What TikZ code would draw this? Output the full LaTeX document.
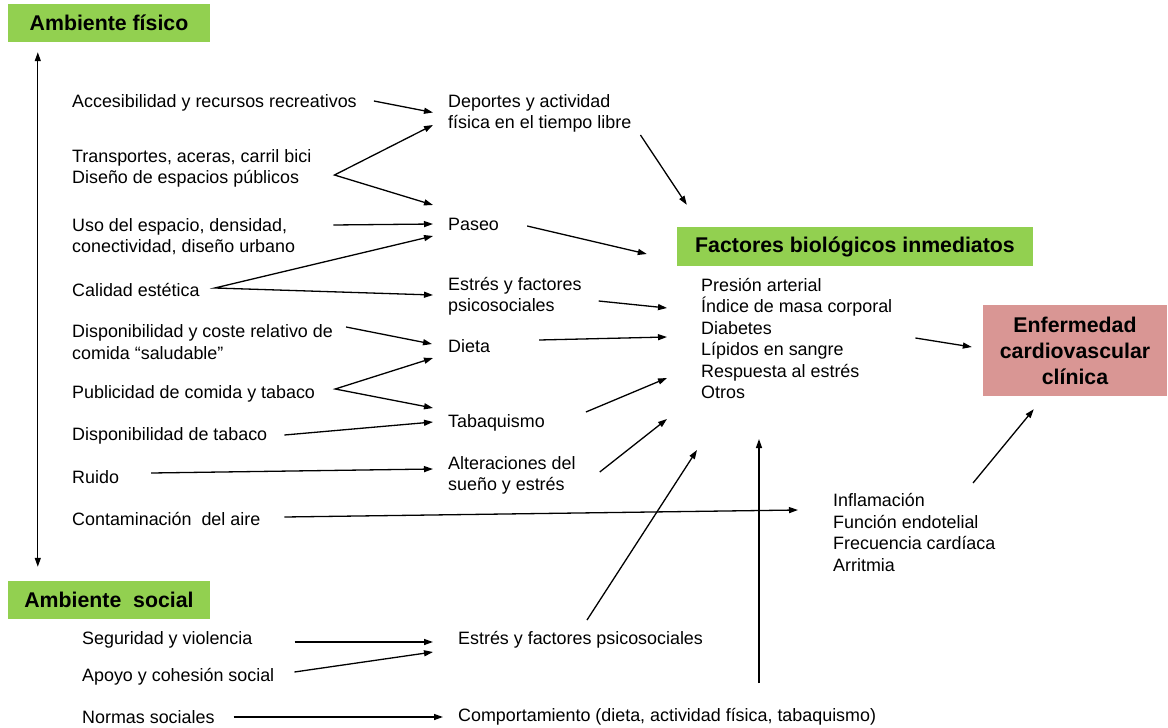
\documentclass[tikz,border=0pt]{standalone}
\usepackage{fontspec}
\setmainfont{Liberation Sans}
\usepackage{tikz}
\usetikzlibrary{positioning,arrows.meta,calc}
\definecolor{verde}{HTML}{92D050}
\definecolor{rosa}{HTML}{D99694}
\tikzstyle{txt} = [anchor=west,inner sep=0pt,align=left,font=\fontsize{17.9}{21.5}\selectfont]
\tikzstyle{titulo} = [fill=verde,inner sep=0pt,font=\bfseries\fontsize{21.3}{26}\selectfont]
\tikzstyle{caja} = [fill=rosa,inner sep=0pt,align=center,minimum width=184,minimum height=91,font=\bfseries\fontsize{21.3}{26}\selectfont]
\tikzstyle{flecha} = [-{Triangle[length=9pt,width=6pt]},line width=1.3pt]
\tikzstyle{horquilla} = [{Triangle[length=9pt,width=6pt]}-{Triangle[length=9pt,width=6pt]},line width=1.3pt,line join=miter]

\begin{document}
\begin{tikzpicture}[x=1pt,y=-1pt]
\useasboundingbox (0,0) rectangle (1168,728);

\node[titulo,minimum width=202,minimum height=38] (amb_f) at (109,23) {Ambiente físico};
\node[titulo,minimum width=202,minimum height=38] (amb_s) at (109,600) {Ambiente~ social};
\node[titulo,minimum width=356,minimum height=39] (bio) at (855,246.5) {Factores biológicos inmediatos};
\node[caja] (enf) at (1075,350.5) {Enfermedad\\cardiovascular\\clínica};

\node[txt] (acces) at (72,103) {Accesibilidad y recursos recreativos};
\node[txt] (transp) at (72,168.5) {Transportes, aceras, carril bici\\Diseño de espacios públicos};
\node[txt] (uso) at (72,236.5) {Uso del espacio, densidad,\\conectividad, diseño urbano};
\node[txt] (calidad) at (72,290) {Calidad estética};
\node[txt] (disp_com) at (72,342) {Disponibilidad y coste relativo de\\comida “saludable”};
\node[txt] (publi) at (72,394) {Publicidad de comida y tabaco};
\node[txt] (disp_tab) at (72,436) {Disponibilidad de tabaco};
\node[txt] (ruido) at (72,477) {Ruido};
\node[txt] (contam) at (72,519) {Contaminación~ del aire};

\node[txt] (segur) at (82,640) {Seguridad y violencia};
\node[txt] (apoyo) at (82,677) {Apoyo y cohesión social};
\node[txt] (normas) at (82,717) {Normas sociales};

\node[txt] (deporte) at (448,113.5) {Deportes y actividad\\física en el tiempo libre};
\node[txt] (paseo) at (448,224) {Paseo};
\node[txt] (estres) at (448,296.5) {Estrés y factores\\psicosociales};
\node[txt] (dieta) at (448,346) {Dieta};
\node[txt] (tabaq) at (448,423) {Tabaquismo};
\node[txt] (sueno) at (448,475.5) {Alteraciones del\\sueño y estrés};

\node[txt] (estres_s) at (458,640) {Estrés y factores psicosociales};
\node[txt] (comport) at (458,717) {Comportamiento (dieta, actividad física, tabaquismo)};

\node[txt] (bio_list) at (701,338.5) {Presión arterial\\Índice de masa corporal\\Diabetes\\Lípidos en sangre\\Respuesta al estrés\\Otros};
\node[txt] (inflam) at (833,532.5) {Inflamación\\Función endotelial\\Frecuencia cardíaca\\Arritmia};

\draw[horquilla] ($(amb_f.south west)+(30,10)$) -- ($(amb_s.north west)+(30,-14)$);

\coordinate (v_transp) at ($(transp.east)+(23,6.5)$);
\coordinate (v_calidad) at ($(calidad.east)+(15,-2)$);
\coordinate (v_publi) at ($(publi.east)+(20,-5)$);

\draw[flecha] ($(acces.east)+(17,-2)$) -- ($(deporte.west)+(-15,-1)$);
\draw[horquilla] ($(deporte.west)+(-15,11.5)$) -- (v_transp) -- ($(paseo.west)+(-15,-19)$);
\draw[flecha] ($(uso.east)+(38,-11.5)$) -- ($(paseo.west)+(-15,0)$);
\draw[horquilla] ($(paseo.west)+(-15,12)$) -- (v_calidad) -- ($(estres.west)+(-15,-1.5)$);
\draw[flecha] ($(disp_com.east)+(13,-15)$) -- ($(dieta.west)+(-16,-2)$);
\draw[horquilla] ($(dieta.west)+(-15,12)$) -- (v_publi) -- ($(tabaq.west)+(-15,-15)$);
\draw[flecha] ($(disp_tab.east)+(17,-1)$) -- ($(tabaq.west)+(-15,-1)$);
\draw[flecha] ($(ruido.east)+(32,-4)$) -- ($(sueno.west)+(-15,-6.5)$);
\draw[flecha] ($(contam.east)+(24,-2)$) -- ($(inflam.west)+(-35,-22.5)$);

\draw[flecha] ($(deporte.east)+(9,21.5)$) -- ($(bio.north west)+(10,-22)$);
\draw[flecha] ($(paseo.east)+(28,2)$) -- ($(bio.west)+(-30,7.5)$);
\draw[flecha] ($(estres.east)+(17,4.5)$) -- ($(bio_list.west)+(-34,-30.5)$);
\draw[flecha] ($(dieta.east)+(49,-6)$) -- ($(bio_list.west)+(-34,-1.5)$);
\draw[flecha] ($(tabaq.east)+(41,-11)$) -- ($(bio_list.west)+(-34,39.5)$);
\draw[flecha] ($(sueno.east)+(24,-3.5)$) -- ($(bio_list.west)+(-34,80.5)$);

\draw[flecha] ($(segur.east)+(42,2)$) -- ($(estres_s.west)+(-25,2)$);
\draw[flecha] ($(apoyo.east)+(20,-5)$) -- ($(estres_s.west)+(-25,12)$);
\draw[flecha] ($(normas.east)+(19,0)$) -- ($(comport.west)+(-15,0)$);
\draw[flecha] ($(estres_s.west)+(129,-20)$) -- ($(bio_list.west)+(-4,111.5)$);
\coordinate (c_up) at ($(comport.west)+(301,-34)$);
\draw[flecha] (c_up) -- ($(c_up |- bio_list.west)+(0,100.5)$);

\draw[flecha] ($(bio_list.east)+(23,-0.5)$) -- ($(enf.west)+(-11,-3.5)$);
\draw[flecha] ($(inflam.west)+(140,-49.5)$) -- ($(enf.south west)+(51,13)$);

\end{tikzpicture}
\end{document}
